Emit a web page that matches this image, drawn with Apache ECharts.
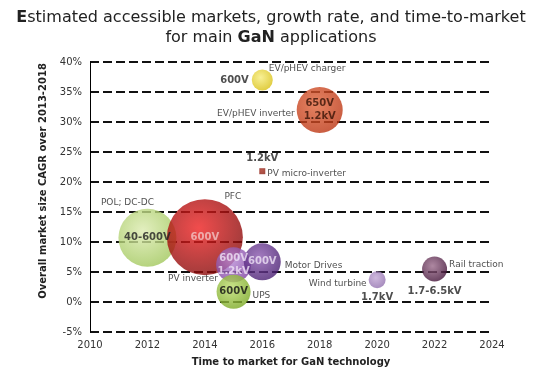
<!DOCTYPE html>
<html>
<head>
<meta charset="utf-8">
<script src="https://cdn.jsdelivr.net/npm/echarts@6/dist/echarts.min.js"></script>
<style>
  html, body { margin: 0; padding: 0; background: #fff; }
  #chart { width: 542px; height: 377px; }
</style>
</head>
<body>
<div id="chart"></div>
<script>
// data
const apps = ['EV/pHEV charger', 'EV/pHEV inverter', 'PV micro-inverter', 'POL; DC-DC', 'PFC',
  'PV inverter', 'Motor Drives', 'UPS', 'Wind turbine', 'Rail traction'];
const years = [2016, 2018, 2016, 2012, 2014, 2015, 2016, 2015, 2020, 2022];
const cagr = [37, 32, 21.8, 10.7, 10.8, 6.2, 6.7, 1.7, 3.7, 5.5];
const sizes = [21, 46, 6, 58, 76, 35, 37, 34, 17, 25];
const voltages = ['600V', '650V\n1.2kV', '1.2kV', '40-600V', '600V', '600V\n1.2kV', '600V', '600V', '1.7kV', '1.7-6.5kV'];

// look of each bubble
const looks = [
  { c0: '#f6ec7a', c1: '#d6bc08', vpos: 'left', vcol: '#222', npos: 'right', noff: [-6, -11] },
  { c0: '#e0643a', c1: '#b8300e', vpos: 'inside', vcol: '#3a1408', npos: 'left', noff: [0, 4] },
  { c0: '#a83020', c1: '#8a1c10', vpos: 'top', vcol: '#222', npos: 'right', noff: [0, 2], sym: 'rect' },
  { c0: '#dcebb0', c1: '#9cc454', vpos: 'inside', vcol: '#222', npos: 'top', noff: [-20, 0] },
  { c0: '#ee2020', c1: '#800808', vpos: 'inside', vcol: '#f2c4c4', npos: 'top', noff: [28, 4] },
  { c0: '#b88ad6', c1: '#7a3c9c', vpos: 'inside', vcol: '#f0e4f6', npos: 'left', noff: [4, 14] },
  { c0: '#8c5ab0', c1: '#42186c', vpos: 'inside', vcol: '#efe4f6', npos: 'right', noff: [2, 4] },
  { c0: '#bcdc6c', c1: '#74a41c', vpos: 'inside', vcol: '#111', npos: 'right', noff: [0, 4] },
  { c0: '#c2a6d4', c1: '#8c6aaa', vpos: 'bottom', vcol: '#222', npos: 'left', noff: [0, 4] },
  { c0: '#9a6a8a', c1: '#3a0a30', vpos: 'bottom', vcol: '#222', npos: 'right', noff: [0, -4] }
];

function grad(l) {
  return new echarts.graphic.RadialGradient(0.42, 0.38, 0.7, [
    { offset: 0, color: l.c0 },
    { offset: 1, color: l.c1 }
  ]);
}

const bubbleData = apps.map(function (a, i) {
  const l = looks[i];
  return {
    name: a,
    value: [years[i], cagr[i]],
    symbol: l.sym || 'circle',
    symbolSize: sizes[i],
    itemStyle: { color: grad(l) },
    label: {
      show: true,
      position: l.vpos,
      distance: 3,
      formatter: voltages[i],
      color: l.vcol,
      fontWeight: 'bold',
      fontSize: 10,
      lineHeight: 13
    }
  };
});

// names beside the bubbles (invisible marks, only labels)
const nameData = apps.map(function (a, i) {
  const l = looks[i];
  return {
    name: a,
    value: [years[i], cagr[i]],
    symbolSize: sizes[i],
    label: {
      show: true,
      position: l.npos,
      offset: l.noff,
      distance: 2,
      formatter: a,
      color: '#222',
      fontSize: 9
    }
  };
});

const mychart = echarts.init(document.getElementById('chart'));
mychart.setOption({
  textStyle: { fontFamily: 'DejaVu Sans' },
  title: {
    text: '{b|E}stimated accessible markets, growth rate, and time-to-market\nfor main {b|GaN} applications',
    left: 'center',
    top: 3,
    textStyle: {
      fontSize: 16,
      fontWeight: 'normal',
      color: '#222',
      lineHeight: 20,
      rich: { b: { fontSize: 16, fontWeight: 'bold', color: '#222' } }
    }
  },
  grid: { left: 90, right: 50, top: 62, bottom: 45 },
  xAxis: {
    type: 'value',
    min: 2010,
    max: 2024,
    interval: 2,
    name: 'Time to market for GaN technology',
    nameLocation: 'middle',
    nameGap: 25,
    nameTextStyle: { fontWeight: 'bold', fontSize: 10, color: '#222' },
    axisLine: { show: false },
    axisTick: { show: false },
    splitLine: { show: false },
    axisLabel: { color: '#333', fontSize: 10, margin: 8, formatter: function (v) { return String(v); } }
  },
  yAxis: {
    type: 'value',
    min: -5,
    max: 40,
    interval: 5,
    name: 'Overall market size CAGR over 2013-2018',
    nameLocation: 'middle',
    nameGap: 33,
    nameTextStyle: { fontWeight: 'bold', fontSize: 10, color: '#222', padding: [0, 0, 0, 32] },
    axisLine: { show: true, lineStyle: { color: '#000', width: 1 } },
    axisTick: { show: false },
    axisLabel: { color: '#333', fontSize: 10, margin: 8, formatter: '{value}%' },
    splitLine: { show: true, lineStyle: { color: '#111', width: 2, type: [9, 4] } }
  },
  series: [
    {
      type: 'scatter',
      data: nameData,
      itemStyle: { color: 'rgba(0,0,0,0)' },
      silent: true,
      z: 1
    },
    {
      type: 'scatter',
      data: bubbleData,
      z: 2
    }
  ]
});
</script>
</body>
</html>
